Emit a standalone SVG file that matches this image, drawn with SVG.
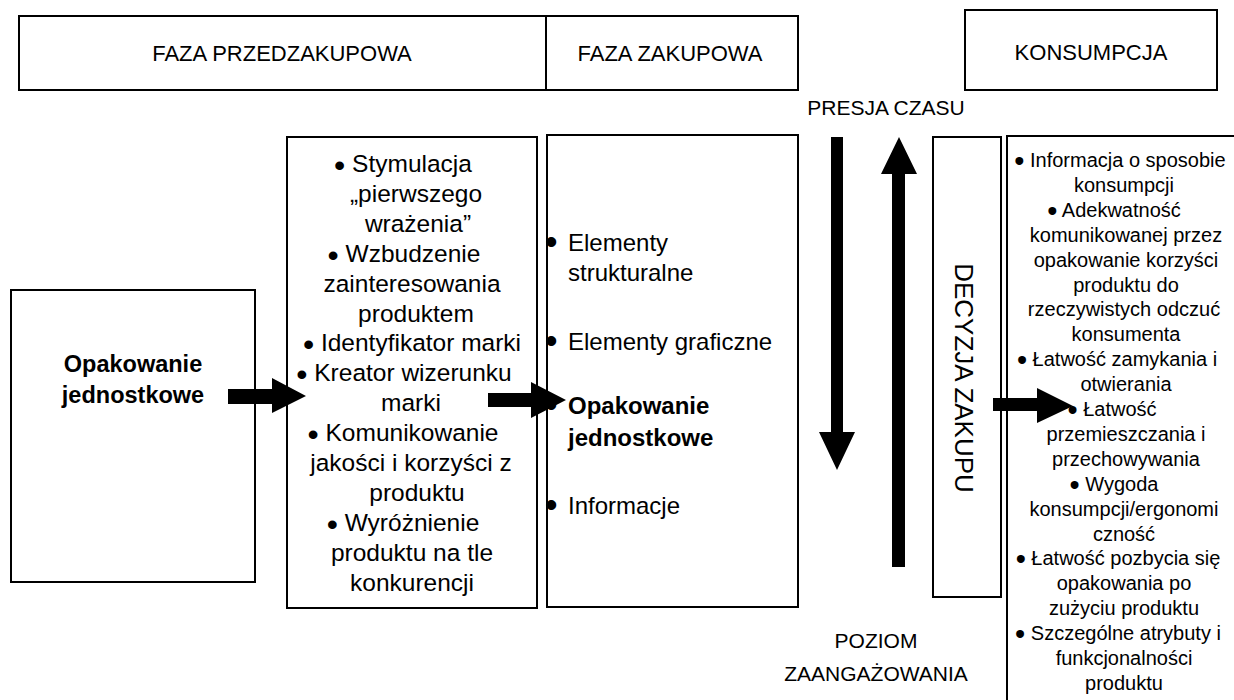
<svg xmlns="http://www.w3.org/2000/svg" width="1234" height="700" viewBox="0 0 1234 700">
<style>
text { font-family: "Liberation Sans", Arial, sans-serif; fill: #000; }
.box { fill: #fff; stroke: #000; stroke-width: 2; }
.hdr { font-size: 22px; text-anchor: middle; }
.lbl { font-size: 21px; text-anchor: middle; }
.b1 { font-size: 23.5px; font-weight: bold; text-anchor: middle; }
.b2 { font-size: 24.5px; text-anchor: middle; }
.b3 { font-size: 24px; }
.b3b { font-size: 24px; font-weight: bold; }
.bul { font-size: 36px; }
.bi { font-size: 32px; }
.bc { font-size: 29px; }
.c { font-size: 20px; text-anchor: middle; }
.arrow { fill: #000; stroke: none; }
</style>
<rect width="1234" height="700" fill="#fff"/>

<g id="faza-przedzakupowa">
<rect class="box" x="19" y="16" width="527" height="74"/>
<text class="hdr" x="282" y="61">FAZA PRZEDZAKUPOWA</text>
</g>
<g id="faza-zakupowa">
<rect class="box" x="546" y="16" width="252" height="74"/>
<text class="hdr" x="670" y="61">FAZA ZAKUPOWA</text>
</g>
<g id="konsumpcja">
<rect class="box" x="965" y="10" width="252" height="80"/>
<text class="hdr" x="1091" y="60">KONSUMPCJA</text>
</g>

<g id="presja-czasu">
<text class="lbl" x="886" y="115">PRESJA CZASU</text>
</g>
<g id="poziom-zaangazowania">
<text class="lbl" x="876" y="648">POZIOM</text>
<text class="lbl" x="876" y="681">ZAANGAŻOWANIA</text>
</g>

<g id="opakowanie-jednostkowe">
<rect class="box" x="11" y="290" width="244" height="292"/>
<text class="b1" x="133" y="372">Opakowanie</text>
<text class="b1" x="133" y="403">jednostkowe</text>
</g>

<g id="faza-przedzakupowa-funkcje">
<rect class="box" x="287" y="137" width="250" height="471"/>
<text class="b2" x="403" y="172"><tspan class="bi" dy="4">•</tspan><tspan dy="-4"> Stymulacja</tspan></text>
<text class="b2" x="416" y="201.9">„pierwszego</text>
<text class="b2" x="418" y="231.8">wrażenia”</text>
<text class="b2" x="404" y="261.7"><tspan class="bi" dy="4">•</tspan><tspan dy="-4"> Wzbudzenie</tspan></text>
<text class="b2" x="412" y="291.6">zainteresowania</text>
<text class="b2" x="416" y="321.5">produktem</text>
<text class="b2" x="412" y="351.4"><tspan class="bi" dy="4">•</tspan><tspan dy="-4"> Identyfikator marki</tspan></text>
<text class="b2" x="404" y="381.3"><tspan class="bi" dy="4">•</tspan><tspan dy="-4"> Kreator wizerunku</tspan></text>
<text class="b2" x="411" y="411.2">marki</text>
<text class="b2" x="403" y="441.1"><tspan class="bi" dy="4">•</tspan><tspan dy="-4"> Komunikowanie</tspan></text>
<text class="b2" x="411" y="471">jakości i korzyści z</text>
<text class="b2" x="417" y="500.9">produktu</text>
<text class="b2" x="403" y="530.8"><tspan class="bi" dy="4">•</tspan><tspan dy="-4"> Wyróżnienie</tspan></text>
<text class="b2" x="412" y="560.7">produktu na tle</text>
<text class="b2" x="412" y="590.6">konkurencji</text>
</g>

<g id="faza-zakupowa-elementy">
<rect class="box" x="547" y="135" width="251" height="472"/>
<text class="bul" x="545" y="254">•</text>
<text class="b3" x="568" y="251">Elementy</text>
<text class="b3" x="568" y="281">strukturalne</text>
<text class="bul" x="545" y="353">•</text>
<text class="b3" x="568" y="350">Elementy graficzne</text>
<text class="bul" x="545" y="417">•</text>
<text class="b3b" x="568" y="414">Opakowanie</text>
<text class="b3b" x="568" y="446">jednostkowe</text>
<text class="bul" x="545" y="517">•</text>
<text class="b3" x="568" y="514">Informacje</text>
</g>

<g id="decyzja-zakupu">
<rect class="box" x="933" y="137" width="68" height="460"/>
<text font-size="26" text-anchor="middle" transform="translate(955 378) rotate(90)" x="0" y="0">DECYZJA ZAKUPU</text>
</g>

<g id="konsumpcja-cechy">
<rect class="box" x="1007" y="136" width="260" height="600"/>
<text class="c" x="1120" y="167"><tspan class="bc" dy="4">•</tspan><tspan dy="-4"> Informacja o sposobie</tspan></text>
<text class="c" x="1124" y="191.9">konsumpcji</text>
<text class="c" x="1114" y="216.8"><tspan class="bc" dy="4">•</tspan><tspan dy="-4"> Adekwatność</tspan></text>
<text class="c" x="1126" y="241.7">komunikowanej przez</text>
<text class="c" x="1126" y="266.6">opakowanie korzyści</text>
<text class="c" x="1126" y="291.5">produktu do</text>
<text class="c" x="1124" y="316.4">rzeczywistych odczuć</text>
<text class="c" x="1126" y="341.3">konsumenta</text>
<text class="c" x="1117" y="366.2"><tspan class="bc" dy="4">•</tspan><tspan dy="-4"> Łatwość zamykania i</tspan></text>
<text class="c" x="1126" y="391.1">otwierania</text>
<text class="c" x="1112" y="416"><tspan class="bc" dy="4">•</tspan><tspan dy="-4"> Łatwość</tspan></text>
<text class="c" x="1126" y="440.9">przemieszczania i</text>
<text class="c" x="1126" y="465.8">przechowywania</text>
<text class="c" x="1114" y="490.7"><tspan class="bc" dy="4">•</tspan><tspan dy="-4"> Wygoda</tspan></text>
<text class="c" x="1124" y="515.6">konsumpcji/ergonomi</text>
<text class="c" x="1124" y="540.5">czność</text>
<text class="c" x="1118" y="565.4"><tspan class="bc" dy="4">•</tspan><tspan dy="-4"> Łatwość pozbycia się</tspan></text>
<text class="c" x="1124" y="590.3">opakowania po</text>
<text class="c" x="1124" y="615.2">zużyciu produktu</text>
<text class="c" x="1118" y="640.1"><tspan class="bc" dy="4">•</tspan><tspan dy="-4"> Szczególne atrybuty i</tspan></text>
<text class="c" x="1124" y="665">funkcjonalności</text>
<text class="c" x="1124" y="689.9">produktu</text>
</g>

<g id="connectors">
<polygon class="arrow" points="228,389 272,389 272,378 306,396 272,413 272,404 228,404"/>
<polygon class="arrow" points="488,393 531,393 531,382 566,400 531,418 531,407 488,407"/>
<polygon class="arrow" points="993,398 1037,398 1037,388 1073,406 1037,423 1037,411 993,411"/>
<polygon class="arrow" points="831,137 843,137 843,432 855,432 837,470 819,432 831,432"/>
<polygon class="arrow" points="899,137 917,174 905,174 905,567 892,567 892,174 881,174"/>
</g>
</svg>
